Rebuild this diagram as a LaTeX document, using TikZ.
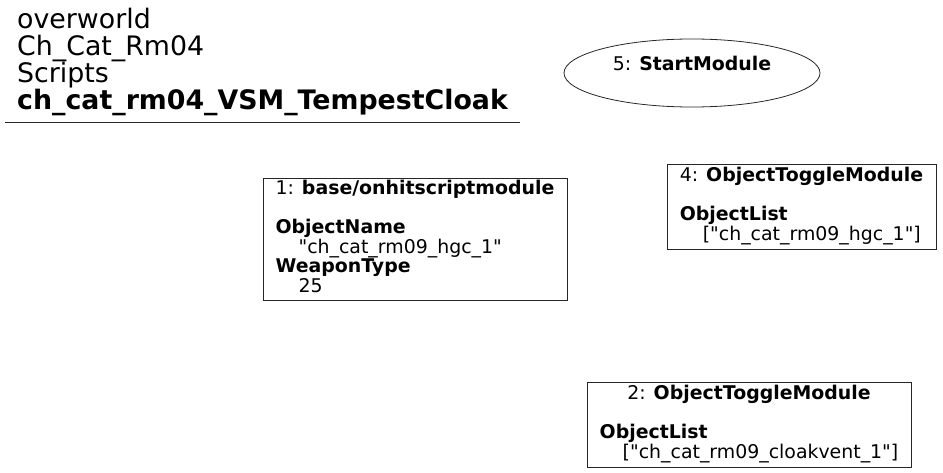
\documentclass[tikz,border=0pt]{standalone}
\usepackage{fontspec}
\setmainfont{DejaVu Sans}
\usetikzlibrary{shapes.geometric}

\def\valind{\hspace*{23pt}}
\def\qt{\textquotedbl}

\begin{document}
\begin{tikzpicture}[x=1pt,y=-1pt,font=\fontsize{18.9}{18.6}\selectfont]
    \tikzstyle{module}=[draw=black!85,line width=0.8pt,rectangle,inner xsep=11.5pt,inner ysep=2pt]
    \tikzstyle{start}=[draw=black!85,line width=0.8pt,ellipse,minimum width=256pt,minimum height=68pt,align=center]
    \tikzstyle{title}=[anchor=north west,align=left,inner sep=0pt,font=\fontsize{26.8}{27}\selectfont]

    \useasboundingbox (0,0) rectangle (943,473);

    % Draw the title and the rule below it
    \node[title] (name) at (17,8) {overworld\\Ch\_Cat\_Rm04\\Scripts\\\textbf{ch\_cat\_rm04\_VSM\_TempestCloak}};
    \coordinate (rule-l) at (5,122);
    \coordinate (rule-r) at (520,122);
    \draw[black!85,line width=0.8pt] (rule-l) -- (rule-r);

    % Draw the start module
    \node[start] (M-5) at (692,73) {5: \textbf{StartModule}\\\mbox{}};

    % Draw the other modules
    \node[module,minimum width=304pt,minimum height=122pt] (M-1) at (415,239) {\begin{tabular}{@{}l@{}}
        \multicolumn{1}{@{}c@{}}{1: \textbf{base/onhitscriptmodule}}\\
        \\
        \textbf{ObjectName}\\
        \valind\qt ch\_cat\_rm09\_hgc\_1\qt\\
        \textbf{WeaponType}\\
        \valind 25
    \end{tabular}};
    \node[module,minimum width=269pt,minimum height=85pt] (M-4) at (801.5,206.5) {\begin{tabular}{@{}l@{}}
        \multicolumn{1}{@{}c@{}}{4: \textbf{ObjectToggleModule}}\\
        \\
        \textbf{ObjectList}\\
        \valind[\qt ch\_cat\_rm09\_hgc\_1\qt]
    \end{tabular}};
    \node[module,minimum width=324pt,minimum height=85pt] (M-2) at (749,424.5) {\begin{tabular}{@{}l@{}}
        \multicolumn{1}{@{}c@{}}{2: \textbf{ObjectToggleModule}}\\
        \\
        \textbf{ObjectList}\\
        \valind[\qt ch\_cat\_rm09\_cloakvent\_1\qt]
    \end{tabular}};
\end{tikzpicture}
\end{document}
